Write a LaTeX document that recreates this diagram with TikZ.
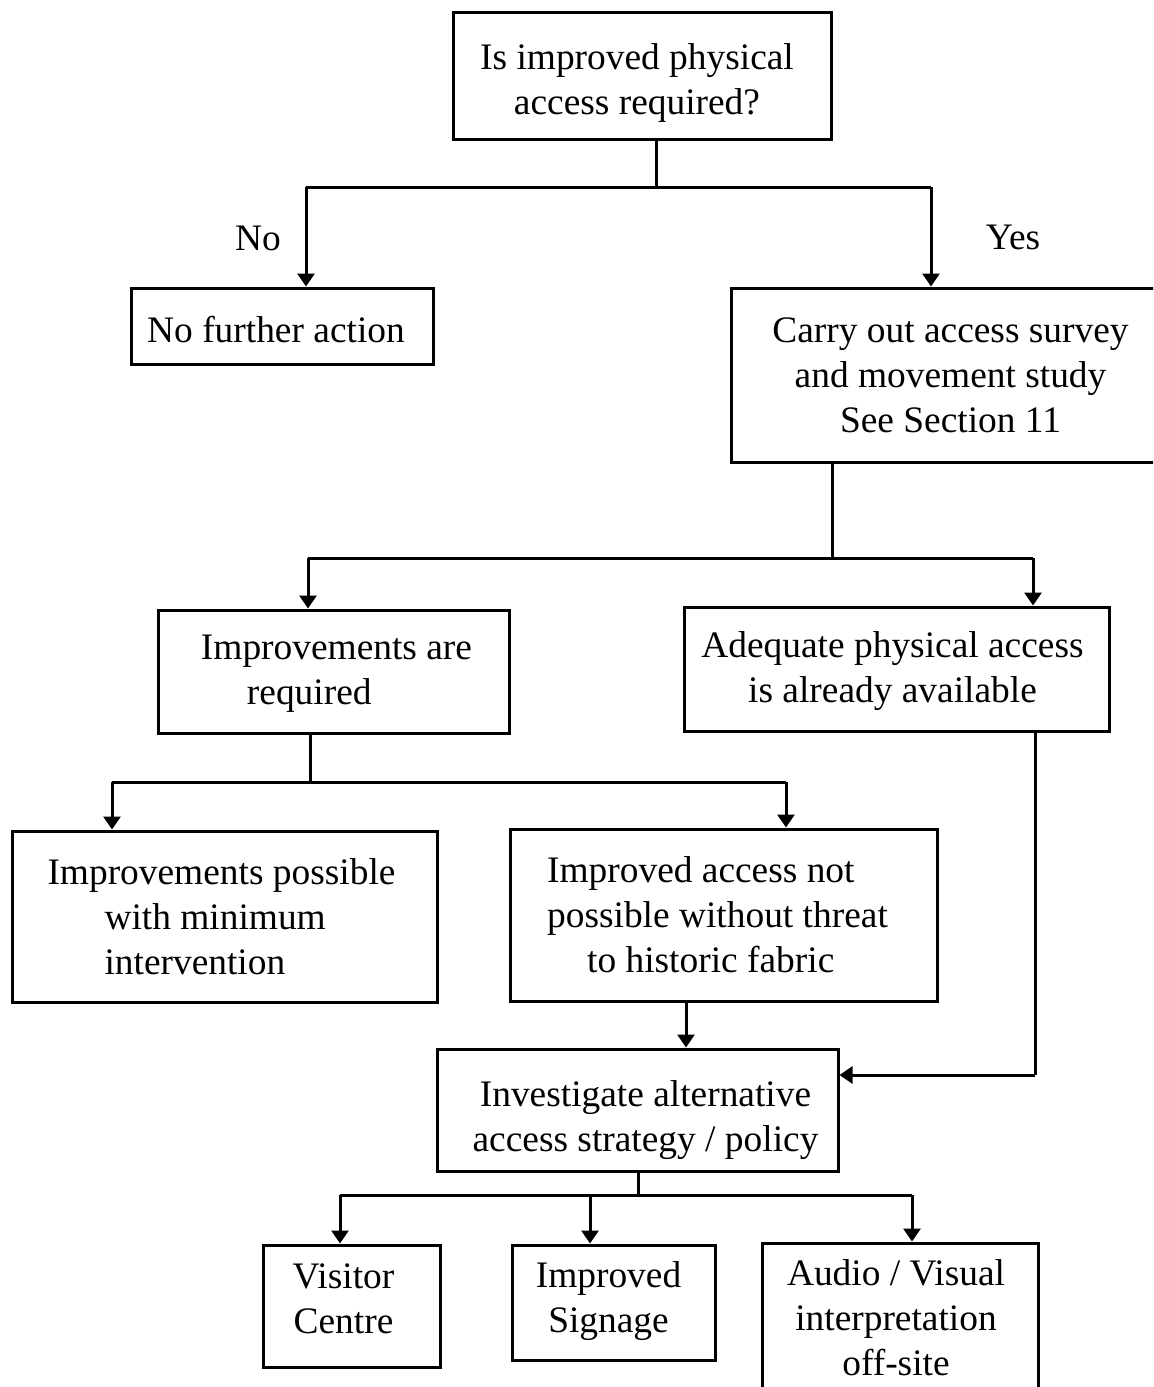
\documentclass[tikz,border=0pt]{standalone}
\usepackage{fontspec}
\setmainfont{Liberation Serif}
\usetikzlibrary{arrows.meta}
\begin{document}
\begin{tikzpicture}[x=0.5pt,y=-0.5pt,
  every node/.style={font=\fontsize{18.7pt}{22.5pt}\selectfont},
  box/.style={draw,line width=1.5pt,inner sep=0pt},
  lbl/.style={inner sep=0pt,align=center},
  lbll/.style={inner sep=0pt,align=left},
  wire/.style={line width=1.5pt},
  arr/.style={line width=1.5pt,-{Triangle[length=6.5pt,width=8.5pt]}}]
% page and clipping frame
\clip (0,0) rectangle (1153,1387);
\fill[white] (0,0) rectangle (1153,1387);

% boxes, each with its text set as a centred label
\node[box,minimum width=189pt,minimum height=63.5pt,
  label={[lbl,xshift=-2.5pt,yshift=-4pt]center:Is improved physical\\access required?}]
  (q) at (642,75.5) {};
\node[box,minimum width=151pt,minimum height=38pt,
  label={[lbl,xshift=-3pt,yshift=-2pt]center:No further action}]
  (nfa) at (282,326) {};
\node[box,minimum width=219.5pt,minimum height=87pt,
  label={[lbl]center:Carry out access survey\\and movement study\\See Section 11}]
  (survey) at (950.5,375) {};
\node[box,minimum width=175.5pt,minimum height=61.5pt,
  label={[lbll,xshift=1.5pt,yshift=-1.25pt]center:Improvements are\\\hspace*{23pt}required}]
  (req) at (333.5,671.5) {};
\node[box,minimum width=212.5pt,minimum height=62pt,
  label={[lbl,xshift=-2pt,yshift=-1.25pt]center:Adequate physical access\\is already available}]
  (adeq) at (896.5,669) {};
\node[box,minimum width=212.5pt,minimum height=85.5pt,
  label={[lbll,xshift=-1.5pt]center:Improvements possible\\\hspace*{28.5pt}with minimum\\\hspace*{28.5pt}intervention}]
  (minint) at (224.5,916.5) {};
\node[box,minimum width=213.5pt,minimum height=86pt,
  label={[lbll,xshift=-3pt]center:Improved access not\\possible without threat\\\hspace*{20pt}to historic fabric}]
  (threat) at (723.5,915) {};
\node[box,minimum width=200.5pt,minimum height=61pt,
  label={[lbl,xshift=4pt,yshift=-5pt]center:Investigate alternative\\access strategy / policy}]
  (alt) at (637.5,1110) {};
\node[box,minimum width=88.5pt,minimum height=61pt,
  label={[lbl,xshift=-4pt,yshift=3.5pt]center:Visitor\\Centre}]
  (visit) at (351.5,1306) {};
\node[box,minimum width=101.5pt,minimum height=57.5pt,
  label={[lbl,xshift=-2.5pt,yshift=0.75pt]center:Improved\\Signage}]
  (sign) at (613.5,1302.5) {};
\node[box,minimum width=138pt,minimum height=78.5pt,
  label={[lbl,xshift=-2pt,yshift=2pt]center:Audio / Visual\\interpretation\\off-site}]
  (av) at (900,1321.5) {};

% branch labels
\node (no) at (258,238) {No};
\node (yes) at (1013,237) {Yes};

% question branches
\coordinate (j1) at (656,187);
\coordinate (j1l) at (306,187);
\coordinate (j1r) at (931,187);
\draw[wire] (q.south -| j1) -- (j1);
\draw[wire] (j1l) -- (j1r);
\draw[arr] (j1l) -- (j1l |- nfa.north);
\draw[arr] (j1r) -- (j1r |- survey.north);

% survey outcomes
\coordinate (j2) at (832,558);
\coordinate (j2l) at (308,558);
\coordinate (j2r) at (1033,558);
\draw[wire] (survey.south -| j2) -- (j2);
\draw[wire] (j2l) -- (j2r);
\draw[arr] (j2l) -- (j2l |- req.north);
\draw[arr] (j2r) -- (j2r |- adeq.north);

% improvement options
\coordinate (j3) at (310,782);
\coordinate (j3l) at (112,782);
\coordinate (j3r) at (786,782);
\draw[wire] (req.south -| j3) -- (j3);
\draw[wire] (j3l) -- (j3r);
\draw[arr] (j3l) -- (j3l |- minint.north);
\draw[arr] (j3r) -- (j3r |- threat.north);

% routes into the alternative strategy
\coordinate (t1) at (686,1001);
\draw[arr] (threat.south -| t1) -- (t1 |- alt.north);
\coordinate (bend) at (1035,1075);
\draw[wire] (adeq.south -| bend) -- (bend);
\draw[arr] (bend) -- (bend -| alt.east);

% alternative strategies
\coordinate (j4) at (638,1195);
\coordinate (j4l) at (340,1195);
\coordinate (j4m) at (590,1195);
\coordinate (j4r) at (912,1195);
\draw[wire] (alt.south -| j4) -- (j4);
\draw[wire] (j4l) -- (j4r);
\draw[arr] (j4l) -- (j4l |- visit.north);
\draw[arr] (j4m) -- (j4m |- sign.north);
\draw[arr] (j4r) -- (j4r |- av.north);
\end{tikzpicture}
\end{document}
